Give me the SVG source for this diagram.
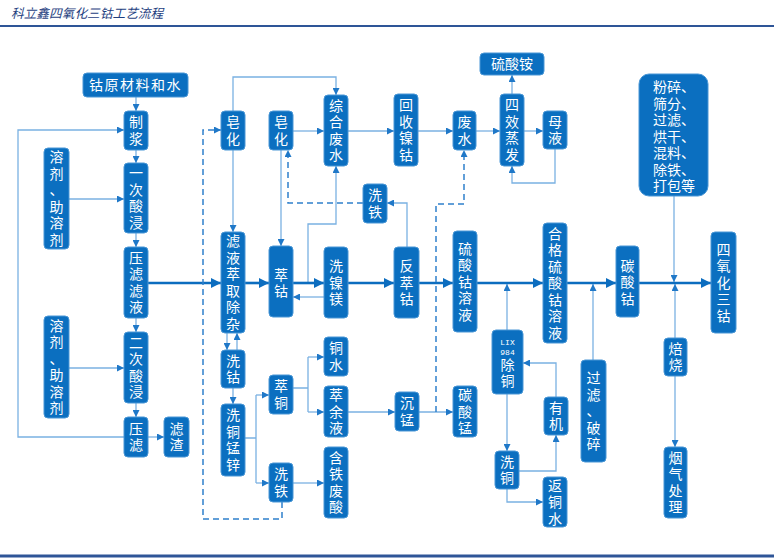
<svg xmlns="http://www.w3.org/2000/svg" width="774" height="558" viewBox="0 0 774 558">
<defs>
<style>
.n rect{fill:#0B6FC0;stroke:#4A97D6;stroke-width:1}
.n text,.n tspan{fill:#fff;font-family:"Noto Sans CJK SC","Noto Sans",sans-serif;font-size:14px;text-anchor:middle}
.n .l,.n .l tspan{text-anchor:start}
.n .s{font-family:"Liberation Mono",monospace;font-size:8px}
.c{fill:none;stroke:#7AB1E2;stroke-width:1.3}
.m{fill:none;stroke:#0C6DBF;stroke-width:2.6}
.d{fill:none;stroke:#2F80CC;stroke-width:1.5;stroke-dasharray:6 4}
</style>
<marker id="a" viewBox="0 0 8 8" refX="8" refY="4" markerWidth="7" markerHeight="7" markerUnits="userSpaceOnUse" orient="auto"><path d="M0,0L8,4L0,8z" fill="#1F78C8"/></marker>
<marker id="b" viewBox="0 0 8 8" refX="8" refY="4" markerWidth="10" markerHeight="10" markerUnits="userSpaceOnUse" orient="auto"><path d="M0,0L8,4L0,8z" fill="#0C6DBF"/></marker>
</defs>
<rect width="774" height="558" fill="#fff"/>
<text x="11" y="18" font-family="'Noto Sans CJK SC',sans-serif" font-size="12.7" font-style="italic" fill="#1F3F7F">科立鑫四氧化三钴工艺流程</text>
<line x1="0" y1="26" x2="774" y2="26" stroke="#2E5597" stroke-width="2"/>
<line x1="0" y1="556" x2="774" y2="556" stroke="#2E5597" stroke-width="3"/>

<g id="connectors">
<g class="c" marker-end="url(#a)">
<path d="M136,97V111"/><path d="M136,150V163"/><path d="M136,233V247"/><path d="M136,318V332"/><path d="M136,403V417"/>
<path d="M148,437H164"/><path d="M124,437H18V130H124"/><path d="M69,199H124"/><path d="M69,368H124"/>
<path d="M233,111V77H336V95"/><path d="M233,150V232"/>
<path d="M293,131H324"/><path d="M348,131H394"/><path d="M418,131H453"/><path d="M476,131H500"/><path d="M524,131H543"/>
<path d="M512,94V75"/><path d="M555,149V183H512V166"/>
<path d="M281,150V246"/><path d="M308,283V224H336V166"/><path d="M324,297H293"/><path d="M407,247V203H387"/>
<path d="M227,333V350"/><path d="M237,350V333"/><path d="M233,388V404"/>
<path d="M256,395H269"/><path d="M256,483H269"/>
<path d="M308,357H324"/><path d="M308,412H324"/>
<path d="M348,412H395"/><path d="M419,412H453"/><path d="M293,483H324"/>
<path d="M507,330V284"/><path d="M507,394V451"/><path d="M519,471H556V435"/><path d="M556,397V363H523"/><path d="M507,489V502H543"/>
<path d="M593,360V284"/><path d="M674,196V282"/><path d="M675,338V284"/><path d="M675,376V447"/>
</g>
<path class="c" d="M245,438H256M256,395V483M293,388H308M308,357V412"/>
<g class="m" marker-end="url(#b)">
<path d="M148,283H221"/><path d="M245,283H269"/><path d="M293,283H324"/><path d="M348,283H394"/><path d="M419,283H453"/><path d="M477,283H543"/><path d="M567,283H616"/><path d="M639,283H711"/>
</g>
<g class="d" marker-end="url(#a)">
<path d="M282,502V519H203V130H221"/><path d="M363,203H288V150"/><path d="M436,412V204H464V150"/>
</g>
</g>

<g id="n1" class="n"><rect x="83" y="73" width="105" height="24" rx="4"/><text x="135.5" y="90" letter-spacing="1.5">钴原材料和水</text></g>
<g id="n2" class="n"><rect x="124" y="111" width="24" height="39" rx="4"/><text><tspan x="136" y="127.25">制</tspan><tspan x="136" dy="16.5">浆</tspan></text></g>
<g id="n3" class="n"><rect x="124" y="163" width="24" height="70" rx="4"/><text><tspan x="136" y="178.25">一</tspan><tspan x="136" dy="16.5">次</tspan><tspan x="136" dy="16.5">酸</tspan><tspan x="136" dy="16.5">浸</tspan></text></g>
<g id="n4" class="n"><rect x="44" y="148" width="25" height="101" rx="4"/><text><tspan x="56.5" y="162.25">溶</tspan><tspan x="56.5" dy="16.5">剂</tspan><tspan x="56.5" dy="16.5">、</tspan><tspan x="56.5" dy="16.5">助</tspan><tspan x="56.5" dy="16.5">溶</tspan><tspan x="56.5" dy="16.5">剂</tspan></text></g>
<g id="n5" class="n"><rect x="124" y="247" width="24" height="71" rx="4"/><text><tspan x="136" y="262.75">压</tspan><tspan x="136" dy="16.5">滤</tspan><tspan x="136" dy="16.5">滤</tspan><tspan x="136" dy="16.5">液</tspan></text></g>
<g id="n6" class="n"><rect x="124" y="332" width="24" height="71" rx="4"/><text><tspan x="136" y="347.75">二</tspan><tspan x="136" dy="16.5">次</tspan><tspan x="136" dy="16.5">酸</tspan><tspan x="136" dy="16.5">浸</tspan></text></g>
<g id="n7" class="n"><rect x="44" y="316" width="25" height="102" rx="4"/><text><tspan x="56.5" y="330.75">溶</tspan><tspan x="56.5" dy="16.5">剂</tspan><tspan x="56.5" dy="16.5">、</tspan><tspan x="56.5" dy="16.5">助</tspan><tspan x="56.5" dy="16.5">溶</tspan><tspan x="56.5" dy="16.5">剂</tspan></text></g>
<g id="n8" class="n"><rect x="124" y="417" width="24" height="40" rx="4"/><text><tspan x="136" y="433.75">压</tspan><tspan x="136" dy="16.5">滤</tspan></text></g>
<g id="n9" class="n"><rect x="164" y="417" width="25" height="40" rx="4"/><text><tspan x="176.5" y="433.75">滤</tspan><tspan x="176.5" dy="16.5">渣</tspan></text></g>
<g id="n10" class="n"><rect x="221" y="111" width="24" height="39" rx="4"/><text><tspan x="233" y="127.25">皂</tspan><tspan x="233" dy="16.5">化</tspan></text></g>
<g id="n11" class="n"><rect x="221" y="232" width="24" height="101" rx="4"/><text><tspan x="233" y="246.25">滤</tspan><tspan x="233" dy="16.5">液</tspan><tspan x="233" dy="16.5">萃</tspan><tspan x="233" dy="16.5">取</tspan><tspan x="233" dy="16.5">除</tspan><tspan x="233" dy="16.5">杂</tspan></text></g>
<g id="n12" class="n"><rect x="221" y="350" width="24" height="38" rx="4"/><text><tspan x="233" y="365.75">洗</tspan><tspan x="233" dy="16.5">钴</tspan></text></g>
<g id="n13" class="n"><rect x="221" y="404" width="24" height="72" rx="4"/><text><tspan x="233" y="420.25">洗</tspan><tspan x="233" dy="16.5">铜</tspan><tspan x="233" dy="16.5">锰</tspan><tspan x="233" dy="16.5">锌</tspan></text></g>
<g id="n14" class="n"><rect x="269" y="111" width="24" height="39" rx="4"/><text><tspan x="281" y="127.25">皂</tspan><tspan x="281" dy="16.5">化</tspan></text></g>
<g id="n15" class="n"><rect x="269" y="246" width="24" height="71" rx="4"/><text><tspan x="281" y="279.75">萃</tspan><tspan x="281" dy="16.5">钴</tspan></text></g>
<g id="n16" class="n"><rect x="269" y="375" width="24" height="39" rx="4"/><text><tspan x="281" y="391.25">萃</tspan><tspan x="281" dy="16.5">铜</tspan></text></g>
<g id="n17" class="n"><rect x="269" y="463" width="24" height="39" rx="4"/><text><tspan x="281" y="479.25">洗</tspan><tspan x="281" dy="16.5">铁</tspan></text></g>
<g id="n18" class="n"><rect x="324" y="95" width="24" height="71" rx="4"/><text><tspan x="336" y="110.75">综</tspan><tspan x="336" dy="16.5">合</tspan><tspan x="336" dy="16.5">废</tspan><tspan x="336" dy="16.5">水</tspan></text></g>
<g id="n19" class="n"><rect x="324" y="247" width="24" height="71" rx="4"/><text><tspan x="336" y="271">洗</tspan><tspan x="336" dy="16.5">镍</tspan><tspan x="336" dy="16.5">镁</tspan></text></g>
<g id="n20" class="n"><rect x="324" y="337" width="24" height="39" rx="4"/><text><tspan x="336" y="353.25">铜</tspan><tspan x="336" dy="16.5">水</tspan></text></g>
<g id="n21" class="n"><rect x="324" y="386" width="24" height="51" rx="4"/><text><tspan x="336" y="400">萃</tspan><tspan x="336" dy="16.5">余</tspan><tspan x="336" dy="16.5">液</tspan></text></g>
<g id="n22" class="n"><rect x="324" y="447" width="24" height="71" rx="4"/><text><tspan x="336" y="462.75">含</tspan><tspan x="336" dy="16.5">铁</tspan><tspan x="336" dy="16.5">废</tspan><tspan x="336" dy="16.5">酸</tspan></text></g>
<g id="n23" class="n"><rect x="363" y="184" width="24" height="39" rx="4"/><text><tspan x="375" y="200.25">洗</tspan><tspan x="375" dy="16.5">铁</tspan></text></g>
<g id="n24" class="n"><rect x="394" y="94" width="24" height="72" rx="4"/><text><tspan x="406" y="110.25">回</tspan><tspan x="406" dy="16.5">收</tspan><tspan x="406" dy="16.5">镍</tspan><tspan x="406" dy="16.5">钴</tspan></text></g>
<g id="n25" class="n"><rect x="394" y="247" width="25" height="71" rx="4"/><text><tspan x="406.5" y="271">反</tspan><tspan x="406.5" dy="16.5">萃</tspan><tspan x="406.5" dy="16.5">钴</tspan></text></g>
<g id="n26" class="n"><rect x="395" y="392" width="24" height="39" rx="4"/><text><tspan x="407" y="408.25">沉</tspan><tspan x="407" dy="16.5">锰</tspan></text></g>
<g id="n27" class="n"><rect x="453" y="111" width="23" height="39" rx="4"/><text><tspan x="464.5" y="127.25">废</tspan><tspan x="464.5" dy="16.5">水</tspan></text></g>
<g id="n28" class="n"><rect x="453" y="231" width="24" height="101" rx="4"/><text><tspan x="465" y="253.5">硫</tspan><tspan x="465" dy="16.5">酸</tspan><tspan x="465" dy="16.5">钴</tspan><tspan x="465" dy="16.5">溶</tspan><tspan x="465" dy="16.5">液</tspan></text></g>
<g id="n29" class="n"><rect x="453" y="386" width="24" height="51" rx="4"/><text><tspan x="465" y="400">碳</tspan><tspan x="465" dy="16.5">酸</tspan><tspan x="465" dy="16.5">锰</tspan></text></g>
<g id="n30" class="n"><rect x="480" y="53" width="64" height="22" rx="4"/><text x="512" y="69">硫酸铵</text></g>
<g id="n31" class="n"><rect x="500" y="94" width="24" height="72" rx="4"/><text><tspan x="512" y="110.25">四</tspan><tspan x="512" dy="16.5">效</tspan><tspan x="512" dy="16.5">蒸</tspan><tspan x="512" dy="16.5">发</tspan></text></g>
<g id="n32" class="n"><rect x="492" y="330" width="31" height="64" rx="4"/><text class="s" x="507.5" y="345">LIX</text><text class="s" x="507.5" y="355">984</text><text><tspan x="507.5" y="370">除</tspan><tspan x="507.5" dy="16">铜</tspan></text></g>
<g id="n33" class="n"><rect x="495" y="451" width="24" height="38" rx="4"/><text><tspan x="507" y="466.75">洗</tspan><tspan x="507" dy="16.5">铜</tspan></text></g>
<g id="n34" class="n"><rect x="543" y="111" width="24" height="38" rx="4"/><text><tspan x="555" y="126.75">母</tspan><tspan x="555" dy="16.5">液</tspan></text></g>
<g id="n35" class="n"><rect x="543" y="223" width="24" height="120" rx="4"/><text><tspan x="555" y="238.5">合</tspan><tspan x="555" dy="16.5">格</tspan><tspan x="555" dy="16.5">硫</tspan><tspan x="555" dy="16.5">酸</tspan><tspan x="555" dy="16.5">钴</tspan><tspan x="555" dy="16.5">溶</tspan><tspan x="555" dy="16.5">液</tspan></text></g>
<g id="n36" class="n"><rect x="544" y="397" width="24" height="38" rx="4"/><text><tspan x="556" y="412.75">有</tspan><tspan x="556" dy="16.5">机</tspan></text></g>
<g id="n37" class="n"><rect x="543" y="477" width="24" height="50" rx="4"/><text><tspan x="555" y="490.5">返</tspan><tspan x="555" dy="16.5">铜</tspan><tspan x="555" dy="16.5">水</tspan></text></g>
<g id="n38" class="n"><rect x="581" y="360" width="25" height="102" rx="4"/><text><tspan x="593.5" y="383">过</tspan><tspan x="593.5" dy="16.5">滤</tspan><tspan x="593.5" dy="16.5">、</tspan><tspan x="593.5" dy="16.5">破</tspan><tspan x="593.5" dy="16.5">碎</tspan></text></g>
<g id="n39" class="n"><rect x="616" y="246" width="23" height="71" rx="4"/><text><tspan x="627.5" y="270.5">碳</tspan><tspan x="627.5" dy="16.5">酸</tspan><tspan x="627.5" dy="16.5">钴</tspan></text></g>
<g id="n40" class="n"><rect x="639" y="74" width="69" height="122" rx="10"/><text class="l"><tspan x="653" y="92">粉碎、</tspan><tspan x="653" dy="16.5">筛分、</tspan><tspan x="653" dy="16.5">过滤、</tspan><tspan x="653" dy="16.5">烘干、</tspan><tspan x="653" dy="16.5">混料、</tspan><tspan x="653" dy="16.5">除铁、</tspan><tspan x="653" dy="16.5">打包等</tspan></text></g>
<g id="n41" class="n"><rect x="711" y="232" width="25" height="101" rx="4"/><text><tspan x="723.5" y="254.5">四</tspan><tspan x="723.5" dy="16.5">氧</tspan><tspan x="723.5" dy="16.5">化</tspan><tspan x="723.5" dy="16.5">三</tspan><tspan x="723.5" dy="16.5">钴</tspan></text></g>
<g id="n42" class="n"><rect x="664" y="338" width="23" height="38" rx="4"/><text><tspan x="675.5" y="353.75">焙</tspan><tspan x="675.5" dy="16.5">烧</tspan></text></g>
<g id="n43" class="n"><rect x="664" y="447" width="23" height="71" rx="4"/><text><tspan x="675.5" y="462.75">烟</tspan><tspan x="675.5" dy="16.5">气</tspan><tspan x="675.5" dy="16.5">处</tspan><tspan x="675.5" dy="16.5">理</tspan></text></g>
</svg>
